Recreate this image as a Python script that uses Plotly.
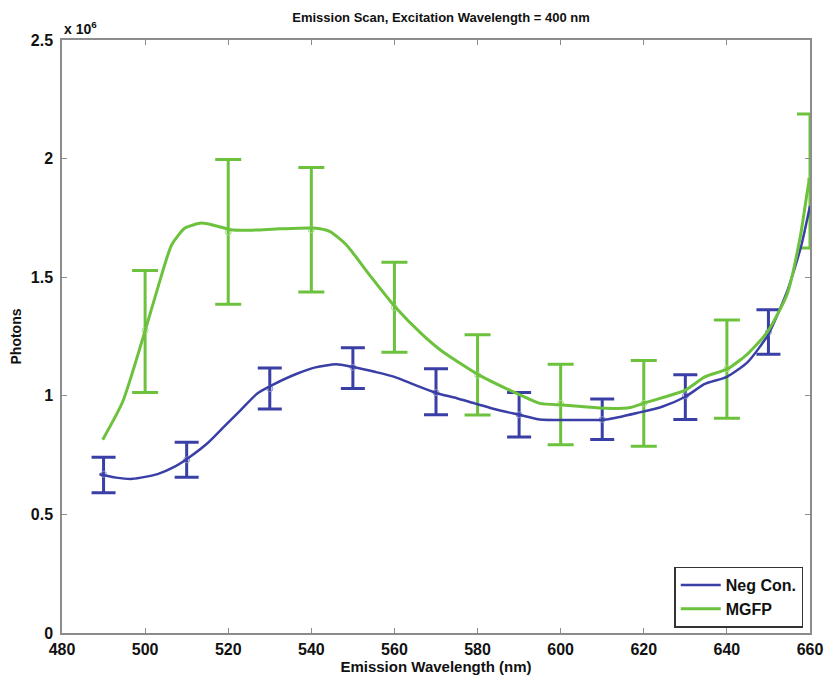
import plotly.graph_objects as go

# ---- data (values in units of 1e6 photons) ----
neg_x = [489, 493, 497, 503, 507, 510.4, 515, 519, 523, 527, 530, 536.5, 541, 546, 550,
         555.5, 560, 565, 570, 575, 579.3, 585, 590.3, 595, 603, 611, 619, 624.4, 630,
         634.7, 640, 645, 650, 654.5, 656, 658, 660]
neg_y = [0.669, 0.655, 0.650, 0.670, 0.700, 0.738, 0.800, 0.870, 0.940, 1.010, 1.040, 1.093,
         1.120, 1.133, 1.121, 1.100, 1.080, 1.045, 1.012, 0.990, 0.968, 0.940, 0.919, 0.900,
         0.898, 0.900, 0.930, 0.954, 0.996, 1.050, 1.080, 1.142, 1.260, 1.440, 1.520, 1.640,
         1.800]

mgfp_x = [489.8, 494.6, 499.3, 503.3, 506.4, 509.6, 513.6, 516.7, 520.7, 525, 532.5, 540.5,
          544.4, 548.4, 553.9, 560.3, 566.6, 571.3, 580.4, 590.3, 595, 600.4, 605, 611,
          616.8, 620.4, 625, 630, 634.7, 640.2, 645, 649.7, 654.5, 657.6, 659.6, 660]
mgfp_y = [0.815, 0.975, 1.233, 1.470, 1.637, 1.707, 1.728, 1.718, 1.700, 1.698, 1.704, 1.707,
          1.693, 1.637, 1.512, 1.372, 1.260, 1.190, 1.087, 1.003, 0.968, 0.961, 0.955, 0.947,
          0.951, 0.971, 0.995, 1.024, 1.080, 1.114, 1.177, 1.268, 1.428, 1.665, 1.888, 1.920]

neg_err_x = [490, 510, 530, 550, 570, 590, 610, 630, 650]
neg_err_c = [0.669, 0.730, 1.030, 1.120, 1.014, 0.920, 0.900, 1.000, 1.268]
neg_err_hi = [0.741, 0.804, 1.117, 1.203, 1.114, 1.014, 0.986, 1.089, 1.363]
neg_err_lo = [0.591, 0.657, 0.944, 1.031, 0.920, 0.826, 0.816, 0.900, 1.175]

mgfp_err_x = [500, 520, 540, 560, 580, 600, 620, 640, 660]
mgfp_err_c = [1.276, 1.690, 1.700, 1.372, 1.087, 0.968, 0.968, 1.114, 1.909]
mgfp_err_hi = [1.528, 1.996, 1.962, 1.563, 1.257, 1.133, 1.149, 1.320, 2.188]
mgfp_err_lo = [1.014, 1.386, 1.438, 1.184, 0.919, 0.794, 0.787, 0.905, 1.623]

x_ticks = [480, 500, 520, 540, 560, 580, 600, 620, 640, 660]
y_ticks = [0, 0.5, 1, 1.5, 2, 2.5]
y_tick_labels = ["0", "0.5", "1", "1.5", "2", "2.5"]

BLUE = "#3a3fa6"
GREEN = "#6cc23c"
FONT = "Liberation Sans, Arial, sans-serif"

fig = go.Figure()

fig.add_trace(go.Scatter(
    x=neg_err_x, y=neg_err_c, mode="markers", showlegend=False,
    marker=dict(symbol="circle-open", size=6, color="#8a8fd0", line=dict(width=1)),
    error_y=dict(type="data", symmetric=False,
                 array=[h - c for h, c in zip(neg_err_hi, neg_err_c)],
                 arrayminus=[c - l for c, l in zip(neg_err_c, neg_err_lo)],
                 color=BLUE, thickness=3, width=12),
))
fig.add_trace(go.Scatter(
    x=mgfp_err_x, y=mgfp_err_c, mode="markers", showlegend=False,
    marker=dict(symbol="circle-open", size=6, color="#a5dc88", line=dict(width=1)),
    error_y=dict(type="data", symmetric=False,
                 array=[h - c for h, c in zip(mgfp_err_hi, mgfp_err_c)],
                 arrayminus=[c - l for c, l in zip(mgfp_err_c, mgfp_err_lo)],
                 color=GREEN, thickness=3, width=13),
))
fig.add_trace(go.Scatter(
    x=neg_x, y=neg_y, mode="lines", name="Neg Con.",
    line=dict(color=BLUE, width=2.5, shape="spline", smoothing=0.6),
))
fig.add_trace(go.Scatter(
    x=mgfp_x, y=mgfp_y, mode="lines", name="MGFP",
    line=dict(color=GREEN, width=3, shape="spline", smoothing=0.6),
))

axis_common = dict(
    showline=True, linecolor="#8c8c8c", linewidth=1.5, mirror="ticks",
    ticks="inside", ticklen=5, tickcolor="#8c8c8c", tickwidth=1,
    showgrid=False, zeroline=False,
    tickfont=dict(family=FONT, size=16, color="#111111", weight="bold"),
)

fig.update_layout(
    width=835, height=684, autosize=False,
    margin=dict(l=62, r=15, t=40, b=46),
    paper_bgcolor="white", plot_bgcolor="white",
    title=dict(text="Emission Scan, Excitation Wavelength = 400 nm",
               x=(62 + 820) / 2 / 835, xanchor="center", y=1 - 17 / 684, yanchor="middle",
               font=dict(family=FONT, size=13, color="#111111", weight="bold")),
    xaxis=dict(range=[480, 660], tickvals=x_ticks, ticklabelstandoff=1,
               title=dict(text="Emission Wavelength (nm)", standoff=4,
                          font=dict(family=FONT, size=15, color="#111111", weight="bold")),
               **axis_common),
    yaxis=dict(range=[0, 2.5], tickvals=y_ticks, ticktext=y_tick_labels,
               ticklabelstandoff=4,
               title=dict(text="Photons", standoff=6,
                          font=dict(family=FONT, size=14, color="#111111", weight="bold")),
               **axis_common),
    legend=dict(x=0.991, y=0.009, xanchor="right", yanchor="bottom",
                bgcolor="white", bordercolor="#333333", borderwidth=1.5,
                font=dict(family=FONT, size=16, color="#111111", weight="bold"),
                tracegroupgap=0, itemwidth=40),
    annotations=[dict(text="x 10<sup>6</sup>", xref="paper", yref="paper",
                      x=0, y=1, xanchor="left", yanchor="bottom", yshift=1,
                      showarrow=False,
                      font=dict(family=FONT, size=14, color="#111111", weight="bold"))],
)

fig.write_html("out.html",
               config={"responsive": False, "displayModeBar": False},
               post_script="document.body.style.margin='0';document.body.style.overflow='hidden';")
